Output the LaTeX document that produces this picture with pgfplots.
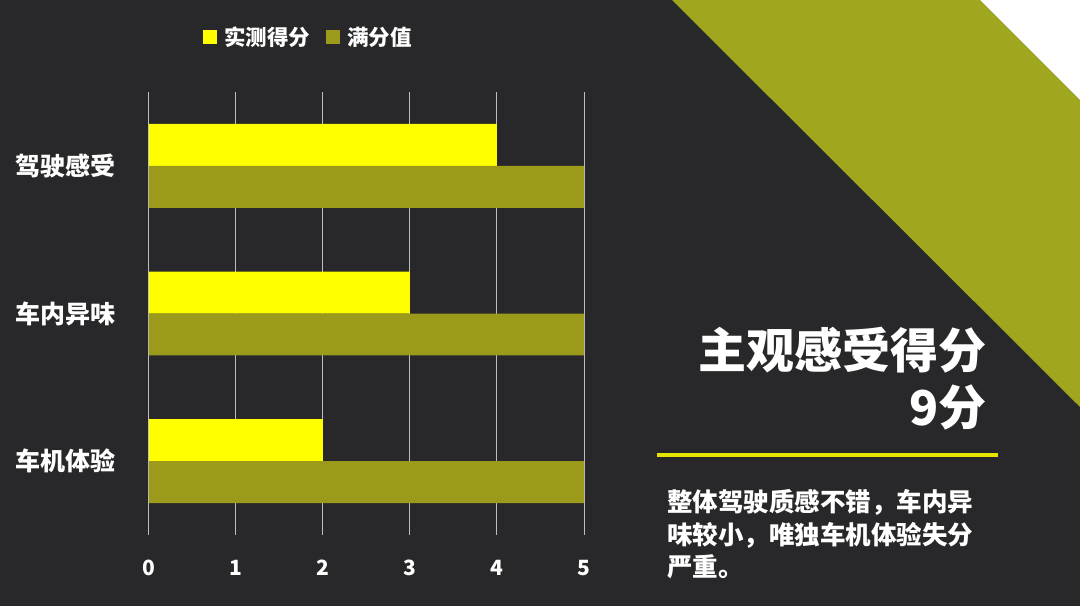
\documentclass[border=0pt]{standalone}
\usepackage{pgfplots}
\pgfplotsset{compat=1.18}
\usepackage{fontspec}
\setmainfont{Noto Sans CJK SC}
\definecolor{bgc}{HTML}{28282A}
\definecolor{tri}{HTML}{A0A61E}
\definecolor{score}{HTML}{FFFF00}
\definecolor{full}{HTML}{9C9A1A}
\definecolor{gridc}{HTML}{BDBDBD}
\begin{document}
\begin{tikzpicture}
\fill[bgc] (0pt,0pt) rectangle (1080pt,606pt);
\fill[tri] (672pt,606pt) -- (980pt,606pt) -- (1080pt,506pt) -- (1080pt,199pt) -- cycle;
\fill[white] (980pt,606pt) -- (1080pt,606pt) -- (1080pt,506pt) -- cycle;
\begin{axis}[
  at={(149pt,71pt)}, anchor=south west,
  width=435pt, height=443pt, scale only axis,
  xbar, bar width=0.284,
  xmin=0, xmax=5, ymin=-0.5, ymax=2.5,
  xtick={0,1,2,3,4,5},
  ytick={0,1,2},
  yticklabels={车机体验,车内异味,驾驶感受},
  axis line style={draw=none},
  major tick style={draw=none},
  xmajorgrids, grid style={gridc, line width=1pt},
  /pgf/number format/assume math mode=true,
  xticklabel style={font=\fontsize{21}{21}\selectfont\bfseries, text=white, anchor=base, inner sep=0pt, yshift=-40pt},
  yticklabel style={font=\fontsize{25}{25}\selectfont\bfseries, text=white, anchor=east, inner sep=0pt, xshift=-29pt},
  legend columns=2,
  legend image code/.code={\fill[#1] (0pt,-7pt) rectangle (14pt,7pt);},
  legend style={at={(0.1241,1.1242)}, anchor=west, draw=none, fill=none,
    inner sep=0pt, text=white, font=\fontsize{21.5}{21.5}\selectfont\bfseries,
    /tikz/every odd column/.append style={column sep=5pt},
    /tikz/every even column/.append style={column sep=14pt}},
]
\addplot[fill=score, draw=none, bar shift=0.142] coordinates {(4,2) (3,1) (2,0)};
\addlegendentry{实测得分}
\addplot[fill=full, draw=none, bar shift=-0.142] coordinates {(5,2) (5,1) (5,0)};
\addlegendentry{满分值}
\end{axis}
\node[anchor=east, text=white, inner sep=0pt, font=\fontsize{48}{48}\selectfont\bfseries] at (987pt,256pt) {主观感受得分};
\node[anchor=east, text=white, inner sep=0pt, font=\fontsize{48}{48}\selectfont\bfseries] at (987pt,198pt) {9分};
\draw[score!90!black, line width=4pt] (657pt,151pt) -- (998pt,151pt);
\node[anchor=west, text=white, inner sep=0pt, font=\fontsize{25.5}{25.5}\selectfont\bfseries] at (667pt,104pt) {整体驾驶质感不错，车内异};
\node[anchor=west, text=white, inner sep=0pt, font=\fontsize{25.5}{25.5}\selectfont\bfseries] at (667pt,71pt) {味较小，唯独车机体验失分};
\node[anchor=west, text=white, inner sep=0pt, font=\fontsize{25.5}{25.5}\selectfont\bfseries] at (667pt,39pt) {严重。};
\end{tikzpicture}
\end{document}
